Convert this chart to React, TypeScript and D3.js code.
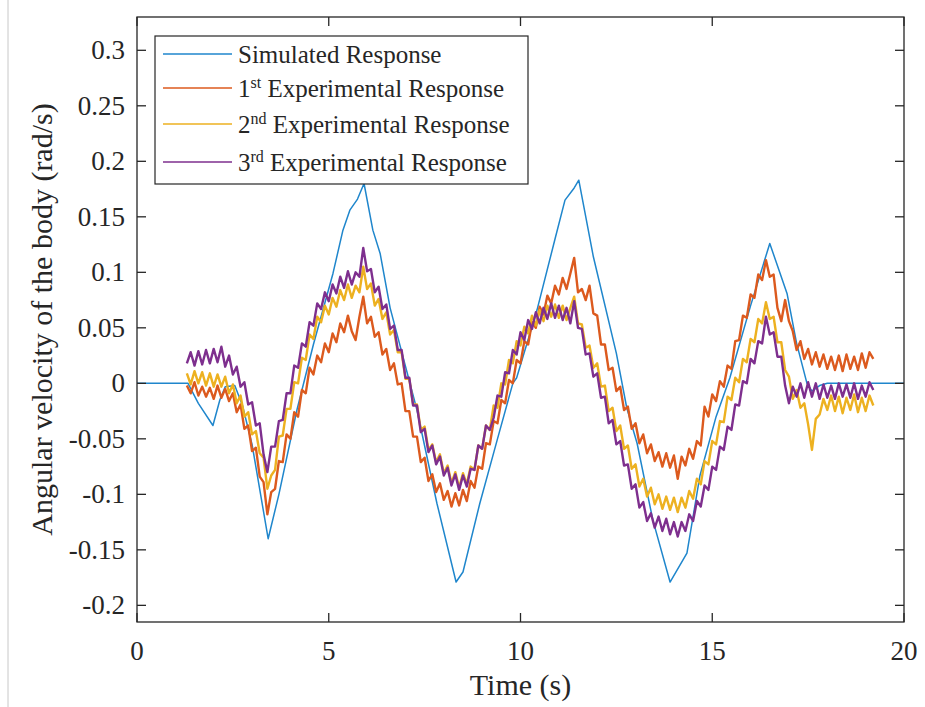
import React from 'react';
import * as d3 from 'd3';

// sample times of the measured responses (s)
const TIME = d3.range(13, 193).map((i) => i / 10);

// 1st experimental response (rad/s)
const EXP1 = [
  -0.002, -0.009, 0.001, -0.011, -0.003, -0.012, -0.004, -0.014, -0.002, -0.013,
  -0.005, -0.016, -0.009, -0.026, -0.019, -0.041, -0.038, -0.061, -0.058, -0.084,
  -0.089, -0.118, -0.098, -0.095, -0.07, -0.071, -0.046, -0.05, -0.026, -0.03,
  -0.006, -0.009, 0.014, 0.008, 0.025, 0.019, 0.036, 0.028, 0.045, 0.037,
  0.054, 0.046, 0.061, 0.047, 0.039, 0.06, 0.078, 0.054, 0.06, 0.042,
  0.046, 0.026, 0.031, 0.012, 0.018, -0.001, 0.0, -0.025, -0.025, -0.048,
  -0.048, -0.071, -0.067, -0.088, -0.082, -0.098, -0.09, -0.105, -0.097, -0.111,
  -0.099, -0.11, -0.096, -0.106, -0.088, -0.094, -0.075, -0.077, -0.054, -0.055,
  -0.034, -0.036, -0.015, -0.018, 0.003, 0.0, 0.021, 0.018, 0.038, 0.035,
  0.055, 0.05, 0.069, 0.062, 0.079, 0.072, 0.088, 0.08, 0.095, 0.085,
  0.099, 0.113, 0.082, 0.085, 0.075, 0.088, 0.063, 0.061, 0.035, 0.035,
  0.012, 0.014, -0.007, -0.003, -0.024, -0.021, -0.041, -0.036, -0.054, -0.046,
  -0.063, -0.055, -0.07, -0.062, -0.075, -0.063, -0.076, -0.065, -0.086, -0.066,
  -0.074, -0.059, -0.068, -0.052, -0.056, -0.021, -0.03, -0.01, -0.016, 0.002,
  -0.003, 0.016, 0.013, 0.038, 0.039, 0.061, 0.059, 0.08, 0.077, 0.098,
  0.093, 0.111, 0.096, 0.098, 0.068, 0.056, 0.075, 0.056, 0.047, 0.03,
  0.038, 0.022, 0.031, 0.017, 0.028, 0.015, 0.026, 0.013, 0.024, 0.012,
  0.025, 0.011, 0.026, 0.013, 0.024, 0.012, 0.027, 0.014, 0.028, 0.022,
];

// 2nd experimental response (rad/s)
const EXP2 = [
  0.009, -0.001, 0.011, 0.0, 0.01, -0.002, 0.009, -0.003, 0.008, -0.003,
  0.006, -0.009, -0.001, -0.018, -0.011, -0.03, -0.026, -0.046, -0.043, -0.063,
  -0.067, -0.095, -0.083, -0.078, -0.048, -0.047, -0.023, -0.023, 0.001, 0.0,
  0.023, 0.021, 0.044, 0.04, 0.06, 0.055, 0.07, 0.062, 0.077, 0.069,
  0.084, 0.075, 0.089, 0.077, 0.088, 0.082, 0.105, 0.085, 0.09, 0.07,
  0.076, 0.058, 0.064, 0.044, 0.048, 0.028, 0.028, 0.004, 0.004, -0.019,
  -0.019, -0.042, -0.039, -0.06, -0.055, -0.071, -0.064, -0.081, -0.074, -0.09,
  -0.08, -0.094, -0.081, -0.091, -0.075, -0.078, -0.056, -0.059, -0.038, -0.042,
  -0.02, -0.022, 0.0, -0.001, 0.021, 0.018, 0.038, 0.034, 0.051, 0.045,
  0.061, 0.052, 0.066, 0.056, 0.07, 0.06, 0.071, 0.059, 0.07, 0.057,
  0.068, 0.078, 0.054, 0.053, 0.032, 0.034, 0.014, 0.018, -0.003, -0.002,
  -0.025, -0.022, -0.043, -0.038, -0.059, -0.056, -0.077, -0.073, -0.093, -0.086,
  -0.102, -0.094, -0.109, -0.1, -0.113, -0.102, -0.114, -0.103, -0.116, -0.103,
  -0.112, -0.097, -0.104, -0.086, -0.091, -0.07, -0.073, -0.052, -0.055, -0.034,
  -0.035, -0.012, -0.015, 0.005, 0.001, 0.022, 0.019, 0.04, 0.037, 0.058,
  0.054, 0.073, 0.058, 0.06, 0.037, 0.037, 0.012, 0.006, -0.014, -0.006,
  -0.022, -0.018, -0.037, -0.06, -0.032, -0.028, -0.014, -0.024, -0.011, -0.025,
  -0.012, -0.027, -0.013, -0.024, -0.01, -0.026, -0.013, -0.025, -0.011, -0.02,
];

// 3rd experimental response (rad/s)
const EXP3 = [
  0.018, 0.028, 0.016, 0.029, 0.017, 0.03, 0.018, 0.031, 0.019, 0.033,
  0.015, 0.025, 0.008, 0.015, -0.003, 0.001, -0.019, -0.017, -0.038, -0.036,
  -0.064, -0.08, -0.057, -0.057, -0.034, -0.033, -0.009, -0.009, 0.016, 0.014,
  0.036, 0.033, 0.055, 0.052, 0.072, 0.067, 0.082, 0.074, 0.089, 0.081,
  0.096, 0.086, 0.101, 0.089, 0.1, 0.096, 0.122, 0.101, 0.103, 0.082,
  0.087, 0.067, 0.071, 0.049, 0.052, 0.03, 0.03, 0.005, 0.005, -0.02,
  -0.02, -0.044, -0.041, -0.062, -0.056, -0.073, -0.066, -0.083, -0.076, -0.092,
  -0.082, -0.096, -0.083, -0.093, -0.077, -0.078, -0.056, -0.059, -0.038, -0.042,
  -0.031, -0.011, -0.012, 0.01, 0.009, 0.03, 0.026, 0.046, 0.039, 0.057,
  0.049, 0.064, 0.054, 0.068, 0.058, 0.072, 0.059, 0.07, 0.057, 0.068,
  0.054, 0.074, 0.05, 0.049, 0.026, 0.027, 0.006, 0.009, -0.013, -0.012,
  -0.036, -0.033, -0.055, -0.052, -0.074, -0.073, -0.095, -0.091, -0.112, -0.107,
  -0.124, -0.117, -0.13, -0.12, -0.133, -0.122, -0.136, -0.125, -0.138, -0.125,
  -0.133, -0.118, -0.124, -0.106, -0.111, -0.092, -0.096, -0.075, -0.078, -0.057,
  -0.06, -0.039, -0.042, -0.019, -0.02, 0.002, 0.0, 0.022, 0.018, 0.038,
  0.036, 0.06, 0.044, 0.046, 0.024, 0.024, -0.002, -0.018, -0.003, -0.012,
  0.0, -0.013, 0.001, -0.012, 0.0, -0.014, -0.001, -0.013, -0.002, -0.014,
  0.0, -0.012, -0.001, -0.013, 0.0, -0.014, -0.002, -0.012, 0.001, -0.006,
];

// simulated response, read at its corners
const SIM_T = [
  0, 1.33, 1.6, 1.98, 2.16, 2.3, 2.55, 2.75, 3.0, 3.42, 3.7, 4.17, 4.6, 5.11, 5.37,
  5.55, 5.75, 5.92, 6.15, 6.34, 6.6, 7.3, 7.82, 8.32, 8.5, 8.94, 9.4, 9.8, 9.9,
  10.43, 10.9, 11.16, 11.4, 11.52, 11.9, 12.5, 12.77, 13.04, 13.45, 13.9, 14.34,
  14.68, 15.1, 15.46, 16.0, 16.5, 16.95, 17.2, 17.47, 17.6, 17.8, 18.0, 20,
];
const SIM_V = [
  0, 0, -0.018, -0.038, -0.015, -0.003, -0.002, -0.02, -0.055, -0.14, -0.1, -0.024,
  0.035, 0.099, 0.138, 0.156, 0.166, 0.18, 0.138, 0.117, 0.068, -0.024, -0.108,
  -0.179, -0.17, -0.108, -0.05, 0.0, 0.005, 0.066, 0.13, 0.165, 0.176, 0.183, 0.114,
  0.027, -0.022, -0.054, -0.123, -0.179, -0.153, -0.083, -0.03, 0.005, 0.07, 0.126,
  0.081, 0.036, 0.0, -0.007, -0.002, 0, 0,
];

const X_TICKS = [0, 5, 10, 15, 20];
const Y_TICKS = [-0.2, -0.15, -0.1, -0.05, 0, 0.05, 0.1, 0.15, 0.2, 0.25, 0.3];

const NAMES = ['Simulated Response', '1st Experimental Response', '2nd Experimental Response', '3rd Experimental Response'];
const COLORS = ['#1f86cc', '#dc5a1e', '#edb120', '#7e2f8e'];

const FONT = '"Liberation Serif", Tinos, "Times New Roman", "DejaVu Serif", serif';
const INK = '#262626';

function LegendLabel({ name }: { name: string }) {
  const m = name.match(/^(\d)(st|nd|rd) (.*)$/);
  if (!m) return <>{name}</>;
  return (
    <>
      <tspan>{m[1]}</tspan>
      <tspan dy={-9} fontSize={16}>{m[2]}</tspan>
      <tspan dy={9}>{' ' + m[3]}</tspan>
    </>
  );
}

export default function App() {
  const W = 925;
  const H = 707;
  const left = 137, right = 904, top = 17, bottom = 622;

  const x = d3.scaleLinear().domain([0, 20]).range([left, right]);
  const y = d3.scaleLinear().domain([-0.215, 0.33]).range([bottom, top]);

  const line = d3
    .line<[number, number]>()
    .x((d) => x(d[0]))
    .y((d) => y(d[1]));

  const series: [number, number][][] = [
    SIM_T.map((t, i) => [t, SIM_V[i]]),
    TIME.map((t, i) => [t, EXP1[i]]),
    TIME.map((t, i) => [t, EXP2[i]]),
    TIME.map((t, i) => [t, EXP3[i]]),
  ];

  const fmt = (v: number) => String(+v.toFixed(2));
  const tick = 9;

  const legendRows = [54, 88, 124, 162];

  return (
    <div style={{ position: 'fixed', left: 0, top: 0 }}>
      <svg width={W} height={H} style={{ display: 'block', background: '#fff', fontFamily: FONT }}>
        <line x1={8} x2={8} y1={0} y2={H} stroke="#c8c8c8" strokeWidth={1} />
        <defs>
          <clipPath id="plot">
            <rect x={left} y={top} width={right - left} height={bottom - top} />
          </clipPath>
        </defs>

        <g clipPath="url(#plot)" fill="none" strokeLinejoin="round">
          {series.map((s, i) => (
            <path key={i} d={line(s) || ''} stroke={COLORS[i]} strokeWidth={i === 0 ? 1.5 : 2.4} />
          ))}
        </g>

        {/* axes box with inward ticks */}
        <rect x={left} y={top} width={right - left} height={bottom - top} fill="none" stroke={INK} strokeWidth={1.3} />
        {X_TICKS.map((t) => (
          <g key={'x' + t} stroke={INK} strokeWidth={1.3}>
            <line x1={x(t)} x2={x(t)} y1={bottom} y2={bottom - tick} />
            <line x1={x(t)} x2={x(t)} y1={top} y2={top + tick} />
          </g>
        ))}
        {Y_TICKS.map((t) => (
          <g key={'y' + t} stroke={INK} strokeWidth={1.3}>
            <line x1={left} x2={left + tick} y1={y(t)} y2={y(t)} />
            <line x1={right} x2={right - tick} y1={y(t)} y2={y(t)} />
          </g>
        ))}

        <g fill={INK} fontSize={27}>
          {X_TICKS.map((t) => (
            <text key={'xl' + t} x={x(t)} y={660} textAnchor="middle">
              {t}
            </text>
          ))}
          {Y_TICKS.map((t) => (
            <text key={'yl' + t} x={125} y={y(t) + 9} textAnchor="end">
              {fmt(t)}
            </text>
          ))}
        </g>

        <text x={(left + right) / 2} y={695} textAnchor="middle" fontSize={30} fill={INK}>
          Time (s)
        </text>
        <text
          transform={`translate(52, ${(97 + 542) / 2}) rotate(-90)`}
          textAnchor="middle"
          fontSize={30}
          fill={INK}
        >
          Angular velocity of the body (rad/s)
        </text>

        {/* legend */}
        <rect x={155} y={36} width={373} height={148} fill="#fff" stroke={INK} strokeWidth={1.2} />
        {NAMES.map((n, i) => (
          <g key={n}>
            <line x1={163} x2={232} y1={legendRows[i]} y2={legendRows[i]} stroke={COLORS[i]} strokeWidth={1.6} />
            <text x={238} y={legendRows[i] + 9} fontSize={25} fill={INK}>
              <LegendLabel name={n} />
            </text>
          </g>
        ))}
      </svg>
    </div>
  );
}
